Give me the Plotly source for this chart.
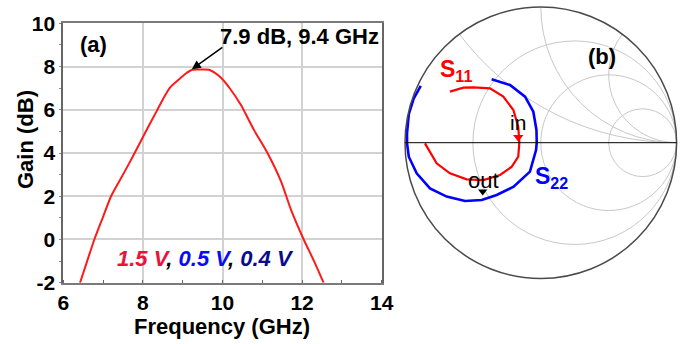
import numpy as np
import plotly.graph_objects as go

W, H = 682, 344

# ---- (a) Gain vs frequency ----
freq_ghz = [6.42, 6.60, 6.78, 7.00, 7.20, 7.50, 7.78, 8.06, 8.35, 8.52, 8.69, 8.94,
            9.08, 9.24, 9.45, 9.66, 9.80, 9.95, 10.2, 10.46, 10.79, 11.13, 11.47,
            11.72, 12.04, 12.30, 12.54]
gain_db = [-2.0, -1.0, 0.0, 1.05, 2.0, 3.0, 3.95, 4.95, 5.95, 6.55, 7.05, 7.46,
           7.68, 7.85, 7.86, 7.85, 7.72, 7.5, 6.95, 6.23, 5.07, 4.0, 2.69,
           1.38, 0.0, -1.0, -2.0]
x_ticks = [6, 8, 10, 12, 14]
y_ticks = [-2, 0, 2, 4, 6, 8, 10]
peak_label = "7.9 dB, 9.4 GHz"
peak_point = (9.23, 7.87)

# ---- (b) Smith chart, reflection coefficients ----
s11_re = [-0.669, -0.57, -0.497, -0.374, -0.276, -0.202, -0.166, -0.158, -0.166, -0.214,
          -0.30, -0.423, -0.546, -0.669, -0.767, -0.853]
s11_im = [0.376, 0.405, 0.408, 0.40, 0.339, 0.241, 0.118, 0.0, -0.103, -0.177,
          -0.238, -0.275, -0.27, -0.226, -0.152, -0.005]
s22_re = [-0.362, -0.227, -0.116, -0.055, -0.032, -0.030, -0.035, -0.08, -0.2, -0.325,
          -0.435, -0.558, -0.693, -0.816, -0.914, -0.972, -0.985, -0.985, -0.972, -0.936, -0.884]
s22_im = [0.467, 0.425, 0.339, 0.228, 0.094, 0.0, -0.054, -0.213, -0.324, -0.385,
          -0.422, -0.429, -0.397, -0.336, -0.225, -0.103, -0.005, 0.069, 0.21, 0.325, 0.418]
in_marker = (-0.166, 0.04)
out_marker = (-0.428, -0.36)

def to_z(re, im):
    g = np.array(re) + 1j * np.array(im)
    z = (1 + g) / (1 - g)
    return z.real, z.imag

FONT = "Liberation Sans, Arial, sans-serif"
fig = go.Figure()

fig.add_trace(go.Scatter(x=freq_ghz, y=gain_db, mode="lines",
                         line=dict(color="#ff1a1a", width=2, shape="spline", smoothing=0.6),
                         showlegend=False))

zr, zi = to_z(s11_re, s11_im)
fig.add_trace(go.Scattersmith(real=zr, imag=zi, mode="lines",
                              line=dict(color="#ff0000", width=2.2), showlegend=False))
zr, zi = to_z(s22_re, s22_im)
fig.add_trace(go.Scattersmith(real=zr, imag=zi, mode="lines",
                              line=dict(color="#0000ff", width=2.6), showlegend=False))
zr, zi = to_z([in_marker[0]], [in_marker[1]])
fig.add_trace(go.Scattersmith(real=zr, imag=zi, mode="markers",
                              marker=dict(symbol="triangle-down", size=9, color="#ff0000"),
                              showlegend=False))
zr, zi = to_z([out_marker[0]], [out_marker[1]])
fig.add_trace(go.Scattersmith(real=zr, imag=zi, mode="markers",
                              marker=dict(symbol="triangle-down", size=8, color="#000000"),
                              showlegend=False))

def px(x):
    return x / W

def py(y):
    return 1 - y / H

def label(x, y, text, size=21, color="black", **kw):
    return dict(x=px(x), y=py(y), xref="paper", yref="paper", text=text,
                xanchor="center", yanchor="middle", showarrow=False,
                font=dict(family=FONT, size=size, color=color), **kw)

annotations = [
    dict(x=peak_point[0], y=peak_point[1], xref="x", yref="y", text="",
         showarrow=True, ax=32, ay=-23, arrowhead=2, arrowsize=1.2, arrowwidth=1.5,
         arrowcolor="black", standoff=0),
    label(299, 37, "<b>" + peak_label + "</b>", size=22),
    label(94, 44, "<b>(a)</b>", size=22),
    label(205, 258,
          "<b><i><span style='color:#f0103c'>1.5 V</span>, "
          "<span style='color:#0a0af5'>0.5 V</span>, "
          "<span style='color:#0a0a8c'>0.4 V</span></i></b>", size=22),
    label(25, 140, "<b>Gain (dB)</b>", size=22, textangle=-90),
    label(222, 326, "<b>Frequency (GHz)</b>", size=22),
    label(601.5, 57, "<b>(b)</b>", size=22),
    label(456, 70, "<b>S<sub>11</sub></b>", size=23, color="#ff0000"),
    label(551, 177, "<b>S<sub>22</sub></b>", size=23, color="#0000ff"),
    label(518, 123, "in", size=21),
    label(483, 180, "out", size=22),
]

fig.update_layout(
    width=W, height=H, margin=dict(l=0, r=0, t=0, b=0, pad=0),
    paper_bgcolor="white", plot_bgcolor="white",
    font=dict(family=FONT, color="black"),
    showlegend=False,
    xaxis=dict(domain=[63.3 / W, 381.7 / W], range=[6, 14], tickvals=x_ticks,
               ticktext=["<b>%d</b>" % v for v in x_ticks], automargin=False,
               tickfont=dict(family=FONT, size=21, color="black"),
               showgrid=True, gridcolor="#d2d2d2", gridwidth=1.5,
               showline=True, mirror=True, linecolor="#7a7a7a", linewidth=2,
               ticks="", zeroline=False,
               minor=dict(dtick=1, tick0=7, ticks="inside", ticklen=3, tickcolor="#666",
                          showgrid=False)),
    yaxis=dict(domain=[1 - 282.7 / H, 1 - 23.3 / H], range=[-2, 10], tickvals=y_ticks,
               ticktext=["<b>%d</b>" % v for v in y_ticks], automargin=False,
               tickfont=dict(family=FONT, size=21, color="black"),
               showgrid=True, gridcolor="#d2d2d2", gridwidth=1.5,
               showline=True, mirror=True, linecolor="#666666", linewidth=2,
               ticks="outside", ticklen=2, tickcolor="#888", ticklabelstandoff=0,
               zeroline=False,
               minor=dict(dtick=1, tick0=-1, ticks="outside", ticklen=2, tickcolor="#888",
                          showgrid=False)),
    smith=dict(
        domain=dict(x=[405 / W, 676.6 / W], y=[1 - 278.5 / H, 1 - 6.9 / H]),
        bgcolor="white",
        realaxis=dict(tickvals=[1 / 3, 1, 3], showticklabels=False, ticks="",
                      gridcolor="#c8c8c8", gridwidth=1, showline=True,
                      linecolor="black", linewidth=1),
        imaginaryaxis=dict(tickvals=[0.5, 1, 2], showticklabels=False, ticks="",
                           gridcolor="#c8c8c8", gridwidth=1, showline=True,
                           linecolor="#4a4a4a", linewidth=1.5),
    ),
    annotations=annotations,
)

fig.write_html("out.html")
